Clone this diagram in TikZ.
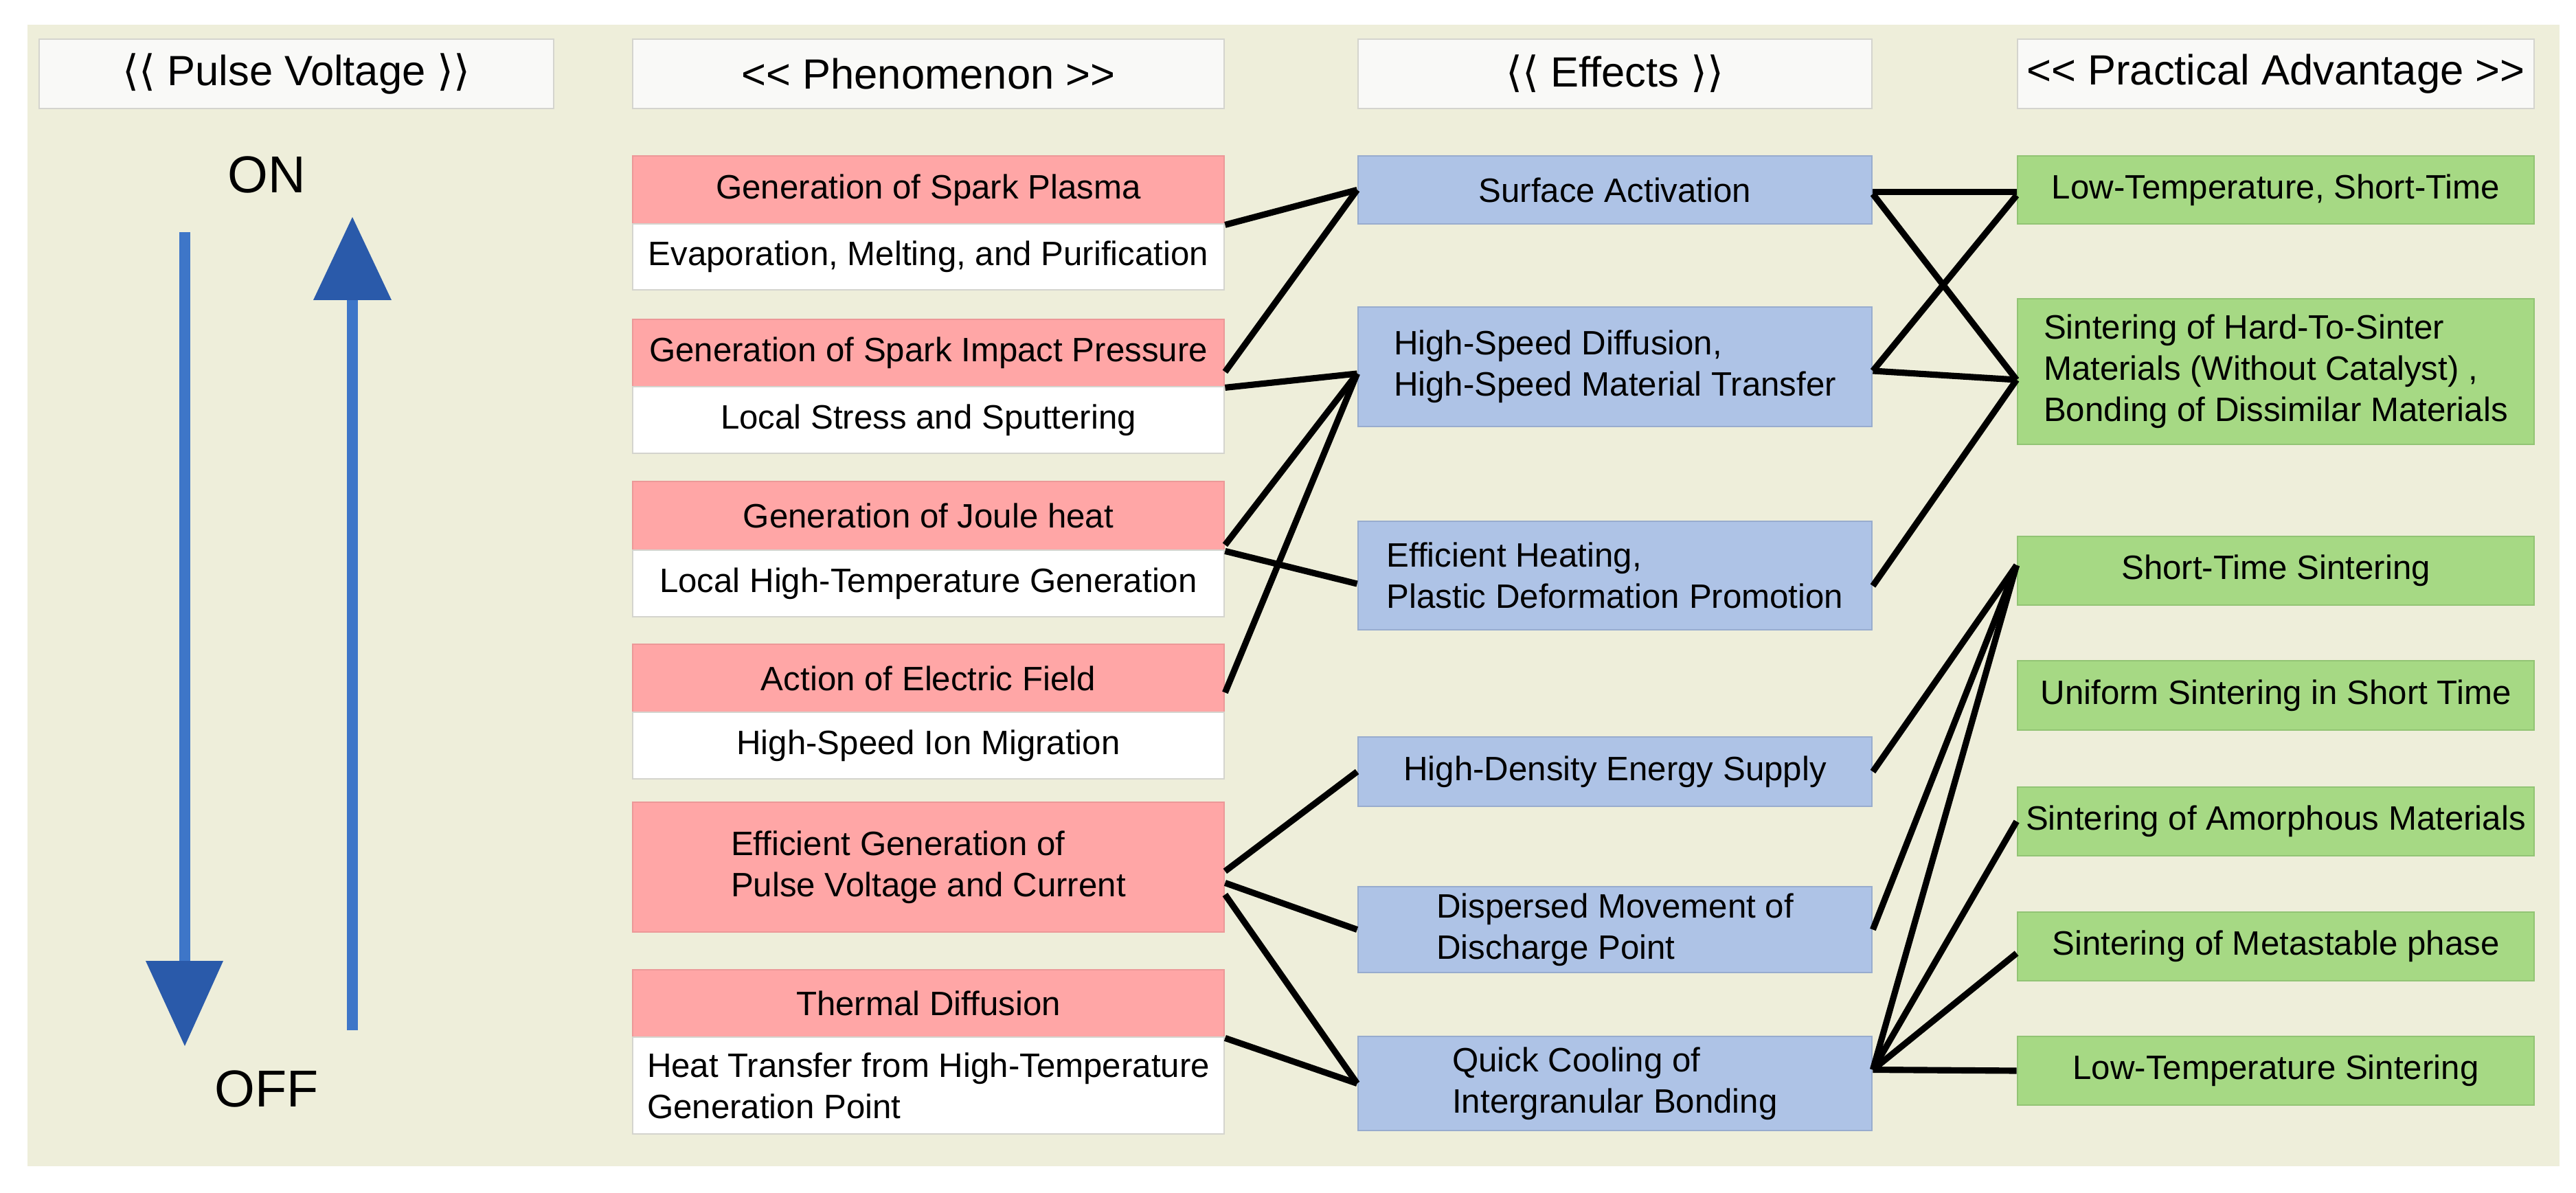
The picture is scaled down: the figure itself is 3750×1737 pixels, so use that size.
\documentclass[tikz,border=0pt]{standalone}
\usepackage{fontspec}
\setmainfont{Liberation Sans}
\newfontfamily\djv{DejaVu Sans}
\usetikzlibrary{calc}
\definecolor{bgc}{RGB}{238,238,218}
\definecolor{redf}{RGB}{255,166,166}
\definecolor{redd}{RGB}{236,152,152}
\definecolor{bluef}{RGB}{174,195,230}
\definecolor{blued}{RGB}{152,172,206}
\definecolor{greenf}{RGB}{166,217,132}
\definecolor{greend}{RGB}{146,196,116}
\definecolor{hdrf}{RGB}{249,249,247}
\definecolor{hdrd}{RGB}{212,212,206}
\definecolor{shaftc}{RGB}{62,118,200}
\definecolor{headc}{RGB}{42,90,170}
\tikzset{
 box/.style={inner sep=2pt, line width=0.8pt, font=\fontsize{14}{17.1}\selectfont, align=center},
 hdr/.style={box, fill=hdrf, draw=hdrd, font=\fontsize{17.5}{21}\selectfont},
 redbox/.style={box, fill=redf, draw=redd},
 whitebox/.style={box, fill=white, draw=hdrd},
 bluebox/.style={box, fill=bluef, draw=blued},
 greenbox/.style={box, fill=greenf, draw=greend},
 link/.style={line width=2.6pt, black},
 bigtxt/.style={font=\fontsize{21.5}{25}\selectfont, anchor=base, inner sep=0pt},
}
\newcommand\mybox[7]{\node[#2, minimum width={(#5-#3)*0.01cm}, minimum height={(#6-#4)*0.01cm}] (#1) at ({(#3+#5)/2},{(#4+#6)/2}) {#7};}
\begin{document}
\begin{tikzpicture}[x=0.01cm, y=-0.01cm]
\fill[white] (0,0) rectangle (3750,1737);
\useasboundingbox (0,0) rectangle (3750,1737);
\fill[bgc] (40,36) rectangle (3726,1698);
% headers
\mybox{h1}{hdr}{57}{57}{806}{158}{{\djv ⟨⟨} Pulse Voltage {\djv ⟩⟩}}
\mybox{h2}{hdr}{921}{57}{1782}{158}{<{}< Phenomenon >{}>}
\mybox{h3}{hdr}{1977}{57}{2725}{158}{{\djv ⟨⟨} Effects {\djv ⟩⟩}}
\mybox{h4}{hdr}{2937}{57}{3689}{158}{<{}< Practical Advantage >{}>}
% pulse arrows
\draw[shaftc, line width=4.8pt] (269,338) -- (269,1402);
\fill[headc] (212,1399) -- (325,1399) -- (269,1523) -- cycle;
\draw[shaftc, line width=4.8pt] (513,1500) -- (513,434);
\fill[headc] (456,437) -- (570,437) -- (513,316) -- cycle;
\node[bigtxt] (on) at (388,281) {ON};
\node[bigtxt] (off) at (388,1611) {OFF};
% phenomenon
\mybox{spR}{redbox}{921}{227}{1782}{326}{Generation of Spark Plasma}
\mybox{spW}{whitebox}{921}{326}{1782}{422}{Evaporation, Melting, and Purification}
\mybox{ipR}{redbox}{921}{465}{1782}{563}{Generation of Spark Impact Pressure}
\mybox{ipW}{whitebox}{921}{563}{1782}{660}{Local Stress and Sputtering}
\mybox{jhR}{redbox}{921}{701}{1782}{801}{Generation of Joule heat}
\mybox{jhW}{whitebox}{921}{801}{1782}{898}{Local High-Temperature Generation}
\mybox{efR}{redbox}{921}{938}{1782}{1037}{Action of Electric Field}
\mybox{efW}{whitebox}{921}{1037}{1782}{1134}{High-Speed Ion Migration}
\mybox{eg}{redbox,align=left}{921}{1168}{1782}{1357}{Efficient Generation of\\Pulse Voltage and Current}
\mybox{tdR}{redbox}{921}{1412}{1782}{1510}{Thermal Diffusion}
\mybox{tdW}{whitebox,align=left}{921}{1510}{1782}{1651}{Heat Transfer from High-Temperature\\Generation Point}
% effects
\mybox{sa}{bluebox}{1977}{227}{2725}{326}{Surface Activation}
\mybox{hsd}{bluebox,align=left}{1977}{447}{2725}{621}{High-Speed Diffusion,\\High-Speed Material Transfer}
\mybox{eh}{bluebox,align=left}{1977}{759}{2725}{917}{Efficient Heating,\\Plastic Deformation Promotion}
\mybox{hdes}{bluebox}{1977}{1073}{2725}{1174}{High-Density Energy Supply}
\mybox{dmd}{bluebox,align=left}{1977}{1291}{2725}{1416}{Dispersed Movement of\\Discharge Point}
\mybox{qc}{bluebox,align=left}{1977}{1509}{2725}{1646}{Quick Cooling of\\Intergranular Bonding}
% practical
\mybox{lts}{greenbox}{2937}{227}{3689}{326}{Low-Temperature, Short-Time}
\mybox{hts}{greenbox,align=left}{2937}{435}{3689}{647}{Sintering of Hard-To-Sinter\\Materials (Without Catalyst) ,\\Bonding of Dissimilar Materials}
\mybox{sts}{greenbox}{2937}{781}{3689}{881}{Short-Time Sintering}
\mybox{us}{greenbox}{2937}{962}{3689}{1063}{Uniform Sintering in Short Time}
\mybox{am}{greenbox}{2937}{1146}{3689}{1246}{Sintering of Amorphous Materials}
\mybox{ms}{greenbox}{2937}{1328}{3689}{1428}{Sintering of Metastable phase}
\mybox{lt}{greenbox}{2937}{1509}{3689}{1609}{Low-Temperature Sintering}
% links phenomenon -> effects
\draw[link] (spR.south east) -- (sa.west);
\draw[link] ($(ipR.south east)+(0,-23)$) -- (sa.west);
\draw[link] (ipR.south east) -- ($(hsd.west)+(0,10)$);
\draw[link] ($(jhR.south east)+(0,-9)$) -- ($(hsd.west)+(0,10)$);
\draw[link] (jhR.south east) -- ($(eh.west)+(0,12)$);
\draw[link] ($(efR.south east)+(0,-30)$) -- ($(hsd.west)+(0,10)$);
\draw[link] ($(eg.east)+(0,6)$) -- (hdes.west);
\draw[link] ($(eg.east)+(0,23)$) -- (dmd.west);
\draw[link] ($(eg.east)+(0,40)$) -- (qc.west);
\draw[link] (tdR.south east) -- (qc.west);
% links effects -> practical
\draw[link] ($(sa.east)+(0,3)$) -- ($(lts.west)+(0,3)$);
\draw[link] ($(sa.east)+(0,6)$) -- ($(hts.west)+(0,12)$);
\draw[link] ($(hsd.east)+(0,6)$) -- ($(lts.west)+(0,8)$);
\draw[link] ($(hsd.east)+(0,6)$) -- ($(hts.west)+(0,12)$);
\draw[link] ($(eh.east)+(0,15)$) -- ($(hts.west)+(0,12)$);
\draw[link] (hdes.east) -- ($(sts.west)+(0,-8)$);
\draw[link] (dmd.east) -- ($(sts.west)+(0,-8)$);
\draw[link] ($(qc.east)+(0,-20)$) -- ($(sts.west)+(0,-8)$);
\draw[link] ($(qc.east)+(0,-20)$) -- (am.west);
\draw[link] ($(qc.east)+(0,-20)$) -- ($(ms.west)+(0,10)$);
\draw[link] ($(qc.east)+(0,-20)$) -- (lt.west);
\end{tikzpicture}
\end{document}
